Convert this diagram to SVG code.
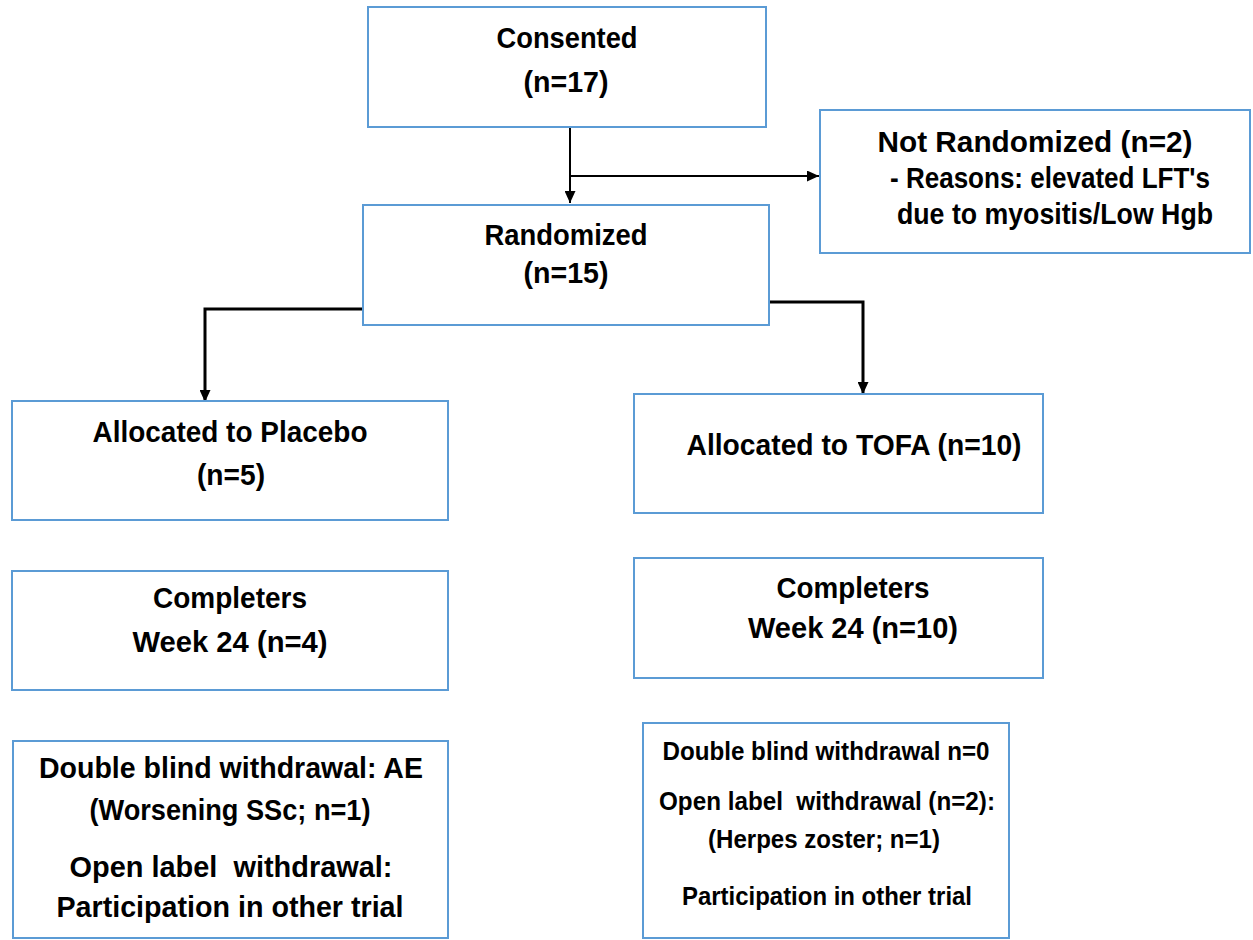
<svg xmlns="http://www.w3.org/2000/svg" width="1253" height="940" viewBox="0 0 1253 940">
<style>
.box{fill:#fff;stroke:#5B9BD5;stroke-width:2}
.t{font-family:"Liberation Sans",Arial,sans-serif;font-weight:bold;font-size:29px;fill:#000;text-anchor:middle;white-space:pre}
.s{font-size:26px}
.c{fill:none;stroke:#000;stroke-width:2}
.c3{fill:none;stroke:#000;stroke-width:3}
</style>
<defs>
<marker id="arr" markerUnits="userSpaceOnUse" markerWidth="12" markerHeight="11" refX="12" refY="5.5" orient="auto">
<path d="M0,0 L12,5.5 L0,11 z" fill="#000"/>
</marker>
</defs>
<rect width="1253" height="940" fill="#fff"/>
<g id="connectors">
<line class="c" x1="570" y1="128" x2="570" y2="203" marker-end="url(#arr)"/>
<line class="c" x1="570" y1="176" x2="819" y2="176" marker-end="url(#arr)"/>
<path class="c3" d="M363,309 H205 V402" marker-end="url(#arr)"/>
<path class="c3" d="M769,302 H863 V394" marker-end="url(#arr)"/>
</g>
<g id="consented">
<rect class="box" x="368" y="7" width="398" height="120"/>
<text class="t" x="567" y="48" textLength="141" lengthAdjust="spacingAndGlyphs">Consented</text>
<text class="t" x="566" y="92" textLength="85" lengthAdjust="spacingAndGlyphs">(n=17)</text>
</g>
<g id="not-randomized">
<rect class="box" x="820" y="110" width="430" height="143"/>
<text class="t" x="1035" y="152" textLength="315" lengthAdjust="spacingAndGlyphs">Not Randomized (n=2)</text>
<text class="t" x="1050" y="188" textLength="320" lengthAdjust="spacingAndGlyphs">- Reasons: elevated LFT's</text>
<text class="t" x="1055" y="224" textLength="316" lengthAdjust="spacingAndGlyphs">due to myositis/Low Hgb</text>
</g>
<g id="randomized">
<rect class="box" x="363" y="205" width="406" height="120"/>
<text class="t" x="566" y="245" textLength="163" lengthAdjust="spacingAndGlyphs">Randomized</text>
<text class="t" x="566" y="283" textLength="85" lengthAdjust="spacingAndGlyphs">(n=15)</text>
</g>
<g id="placebo">
<rect class="box" x="12" y="401" width="436" height="119"/>
<text class="t" x="230" y="442" textLength="275" lengthAdjust="spacingAndGlyphs">Allocated to Placebo</text>
<text class="t" x="231" y="485" textLength="68" lengthAdjust="spacingAndGlyphs">(n=5)</text>
</g>
<g id="tofa">
<rect class="box" x="634" y="394" width="409" height="119"/>
<text class="t" x="854" y="455" textLength="335" lengthAdjust="spacingAndGlyphs">Allocated to TOFA (n=10)</text>
</g>
<g id="completers-placebo">
<rect class="box" x="12" y="571" width="436" height="119"/>
<text class="t" x="230" y="608" textLength="154" lengthAdjust="spacingAndGlyphs">Completers</text>
<text class="t" x="230" y="652" textLength="195" lengthAdjust="spacingAndGlyphs">Week 24 (n=4)</text>
</g>
<g id="completers-tofa">
<rect class="box" x="634" y="558" width="409" height="120"/>
<text class="t" x="853" y="598" textLength="153" lengthAdjust="spacingAndGlyphs">Completers</text>
<text class="t" x="853" y="638" textLength="210" lengthAdjust="spacingAndGlyphs">Week 24 (n=10)</text>
</g>
<g id="withdrawal-placebo">
<rect class="box" x="13" y="741" width="435" height="197"/>
<text class="t" x="231" y="778" textLength="384" lengthAdjust="spacingAndGlyphs">Double blind withdrawal: AE</text>
<text class="t" x="230" y="820" textLength="281" lengthAdjust="spacingAndGlyphs">(Worsening SSc; n=1)</text>
<text class="t" x="231" y="877" textLength="323" lengthAdjust="spacingAndGlyphs">Open label  withdrawal:</text>
<text class="t" x="230" y="917" textLength="347" lengthAdjust="spacingAndGlyphs">Participation in other trial</text>
</g>
<g id="withdrawal-tofa">
<rect class="box" x="643" y="723" width="366" height="215"/>
<text class="t s" x="826" y="760" textLength="327" lengthAdjust="spacingAndGlyphs">Double blind withdrawal n=0</text>
<text class="t s" x="827" y="810" textLength="336" lengthAdjust="spacingAndGlyphs">Open label  withdrawal (n=2):</text>
<text class="t s" x="824" y="848" textLength="232" lengthAdjust="spacingAndGlyphs">(Herpes zoster; n=1)</text>
<text class="t s" x="827" y="905" textLength="290" lengthAdjust="spacingAndGlyphs">Participation in other trial</text>
</g>
</svg>
